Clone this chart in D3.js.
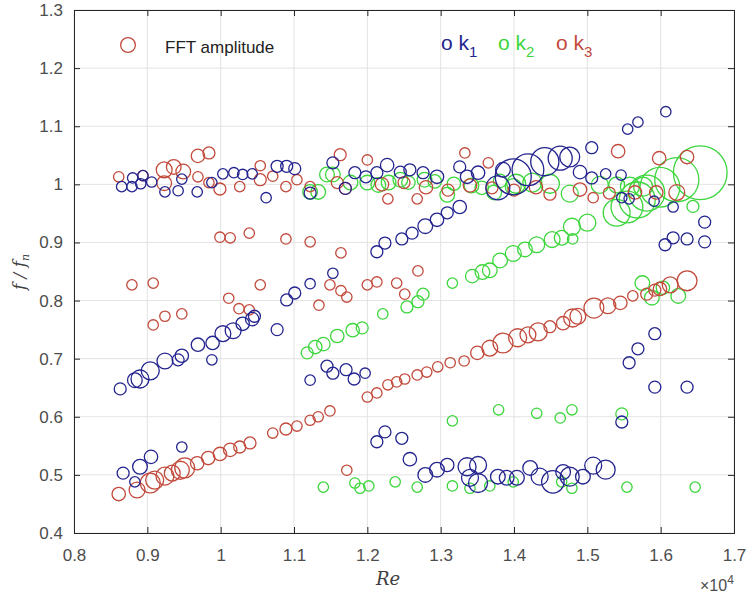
<!DOCTYPE html>
<html>
<head>
<meta charset="utf-8">
<script src="https://cdn.jsdelivr.net/npm/d3@7.9.0/dist/d3.min.js"></script>
<style>
  body { margin: 0; background: #fff; }
  svg { display: block; font-family: Arial, "Liberation Sans", sans-serif; }
  .grid line { stroke: #e3e3e3; }
  .tick text { fill: #4d4d4d; font-size: 17px; }
</style>
</head>
<body>
<svg id="chart" width="751" height="600"></svg>
<script>
// Each point: [Re, f/fn, FFT amplitude]
const k1 = [
  [8650,0.996,3],[8790,0.996,3],[8800,1.011,3],[8910,1.001,3],[8940,1.015,3],[9060,1.004,3],
  [9240,0.987,3],[9420,0.989,3],[9470,1.009,3],[9680,0.987,3],[9880,1.003,3],[10030,1.018,3],
  [10180,1.020,3],[10300,1.017,3],[10430,1.018,3],[10620,0.977,3],[10770,1.031,4],[10900,1.031,4],
  [11010,1.027,4],[11220,0.985,4],[11530,1.037,4],[11700,0.993,4],[11830,1.020,4],[11980,1.013,4],
  [12130,1.020,4],[12270,1.033,5],[12450,1.021,4],[12580,1.025,4],[12760,1.020,4],[12950,1.013,5],
  [13260,1.030,4],[13360,1.013,5],[13510,1.020,5],[13850,1.025,6],
  [13780,0.994,16],[13990,1.013,36],[14190,1.025,28],[14420,1.039,22],[14630,1.045,16],[14760,1.047,11],
  [15060,1.063,4],[14900,1.021,5],[15060,1.011,4],[15250,1.018,3],[15460,1.016,3],[15470,0.977,3],
  [15570,0.975,3],[15910,0.971,3],[16170,0.961,3],[15550,1.095,3],[15690,1.107,3],[16070,1.125,3],
  [16600,0.935,4],[16600,0.901,4],[16060,0.896,4],[16170,0.908,4],[16360,0.906,4],
  [15920,0.743,4],[15690,0.717,4],[15570,0.693,4],[15920,0.651,4],[16360,0.651,4],[15470,0.591,4],
  [8630,0.648,4],[8830,0.663,6],[8900,0.665,9],[9040,0.679,9],[9240,0.696,7],[9420,0.698,4],
  [9470,0.705,5],[9690,0.724,5],[9890,0.727,5],[10030,0.743,7],[10170,0.748,7],[10300,0.760,5],
  [10430,0.768,5],[10460,0.773,4],[10770,0.750,4],[9880,0.698,3],
  [10900,0.801,4],[11010,0.813,4],[11220,0.829,3],[11530,0.847,3],[11220,0.663,3],[11450,0.687,4],
  [11530,0.675,4],[11710,0.681,4],[11820,0.665,4],[11970,0.675,3],
  [12130,0.884,4],[12240,0.899,4],[12470,0.906,4],[12610,0.916,4],[12790,0.928,6],[12950,0.939,5],
  [13090,0.951,4],[13260,0.961,5],
  [12130,0.557,4],[12240,0.574,4],[12470,0.563,4],[12580,0.527,5],
  [8670,0.503,4],[8830,0.488,3],[8900,0.514,6],[9050,0.531,5],[9470,0.548,3],
  [12790,0.500,6],[12950,0.509,6],[13090,0.517,5],[13360,0.514,9],[13510,0.517,8],[13400,0.495,8],
  [13510,0.486,10],[13780,0.497,6],[13900,0.495,6],[14040,0.495,6],[14220,0.512,6],[14350,0.497,8],
  [14530,0.488,14],[14670,0.505,6],[14760,0.497,10],[14940,0.497,6],[15080,0.516,8],[15250,0.509,10]
];

const k2 = [
  [11400,0.479,3],[11830,0.486,3],[11900,0.477,3],[12020,0.481,3],[12380,0.488,3],[12680,0.479,3],
  [13160,0.481,3],[13400,0.477,3],[13670,0.481,3],[13990,0.488,3],[14650,0.488,3],[14790,0.477,3],
  [15540,0.479,3],[16470,0.479,3],
  [13160,0.593,3],[13790,0.612,3],[14310,0.606,3],[14630,0.598,3],[14790,0.612,3],[15470,0.605,4],
  [11180,0.710,4],[11290,0.720,5],[11400,0.725,5],[11590,0.739,5],[11800,0.749,5],[11930,0.753,4],
  [12210,0.777,3],[12540,0.789,4],[12690,0.798,4],[12760,0.811,4],[13160,0.830,3],[13430,0.842,5],
  [13570,0.849,6],[13670,0.852,6],[13810,0.869,6],[13990,0.881,7],[14150,0.888,6],[14310,0.896,7],
  [14520,0.905,7],[14650,0.908,6],[14790,0.927,8],[14800,0.906,3],[15000,0.934,8],
  [15400,0.951,20],[15540,0.961,28],[15680,0.973,36],[15810,0.985,36],[15990,0.995,44],
  [16220,1.008,54],[16540,1.020,80],[16440,0.962,4],
  [11220,0.987,6],[11330,0.987,6],[11450,1.017,6],[11530,1.017,6],[11770,1.003,6],[12000,1.003,6],
  [12150,0.999,6],[12290,1.003,6],[12450,1.008,6],[12560,1.003,5],[12780,1.008,6],[12920,1.005,5],
  [13090,0.982,6],[13180,1.001,5],[13420,0.998,6],[13560,0.994,5],[13730,0.986,6],[13810,1.006,5],
  [13990,0.996,7],[14030,1.001,10],[14250,1.003,10],[14490,1.001,10],[14760,0.984,8],[15170,0.999,8],
  [15400,0.999,7],[15580,0.996,10],[15760,0.996,10],
  [15750,0.830,6],[15880,0.805,6],[16240,0.808,6],[16030,0.822,5]
];

const k3 = [
  [8610,0.467,5],[8860,0.474,7],[9040,0.486,11],[9100,0.491,9],[9240,0.498,9],[9340,0.503,7],
  [9450,0.508,9],[9510,0.512,11],[9680,0.520,5],[9830,0.529,5],[9990,0.536,5],[10130,0.543,5],
  [10260,0.548,4],[10400,0.555,4],[10710,0.572,3],[10890,0.579,4],[11040,0.584,3],[11220,0.594,3],
  [11330,0.600,3],[11490,0.610,3],[12000,0.634,3],[12130,0.641,3],[12280,0.655,3],[12400,0.660,3],
  [12510,0.665,3],[12680,0.672,3],[12810,0.677,3],[12960,0.686,3],[13130,0.693,3],[13320,0.696,3],
  [13500,0.710,5],[13670,0.718,7],[13850,0.727,11],[14050,0.736,9],[14190,0.741,7],[14330,0.746,9],
  [14490,0.755,4],[14670,0.761,5],[14800,0.770,9],[14870,0.773,7],[15090,0.787,11],[15280,0.791,7],
  [15450,0.796,5],[15620,0.808,3],[15810,0.811,4],[15920,0.818,4],[15990,0.820,5],[16130,0.827,7],
  [16360,0.834,11],
  [8610,1.013,3],[8940,1.015,3],[9230,1.025,7],[9360,1.030,6],[9490,1.022,6],[9230,1.002,6],
  [9690,1.049,5],[9840,1.054,4],[9690,1.013,3],[9840,1.003,3],[9990,0.992,4],[10260,0.996,3],
  [10540,1.032,3],[10540,1.008,4],[10710,1.014,3],[10890,0.996,3],[11040,1.008,3],[11220,0.996,3],
  [11590,1.003,4],[11630,1.051,4],[12000,1.042,3],[12280,0.975,3],[12680,0.975,3],[13330,1.054,3],
  [13650,1.037,3],[15420,1.057,5],[15980,1.045,5],[16360,1.047,5],
  [11700,0.993,4],[12200,1.000,5],[12500,1.003,4],[12800,0.995,5],[13100,0.990,4],[13400,0.998,5],
  [13700,0.994,4],[14000,0.990,4],[14300,0.995,5],[14490,0.983,4],[14900,0.991,5],[15080,0.977,3],
  [15300,0.985,4],[15650,0.986,5],[15940,0.986,5],[16220,0.986,7],
  [8790,0.827,3],[9080,0.830,3],[9080,0.758,3],[9240,0.773,3],[9470,0.777,3],[9990,0.909,3],
  [10130,0.908,3],[10390,0.916,3],[10890,0.906,3],[11220,0.901,3],[11640,0.882,3],[10110,0.804,3],
  [10250,0.786,3],[10390,0.784,3],[10540,0.827,3],[11490,0.827,3],[11640,0.817,3],[11720,0.806,3],
  [11340,0.792,3],[12000,0.827,3],[12130,0.832,3],[12400,0.830,3],[12510,0.811,3],[12690,0.851,3],
  [11720,0.508,3]
];

const xTicks = [8000, 9000, 10000, 11000, 12000, 13000, 14000, 15000, 16000, 17000];
const yTicks = [0.4, 0.5, 0.6, 0.7, 0.8, 0.9, 1.0, 1.1, 1.2, 1.3];

const colors = { k1: '#24248f', k2: '#3cd63c', k3: '#c24a3c' };

const margin = { top: 10, right: 17, bottom: 67, left: 74 };
const width = 751, height = 600;
const svg = d3.select('#chart');

const x = d3.scaleLinear().domain([8000, 17000]).range([margin.left, width - margin.right]);
const y = d3.scaleLinear().domain([0.4, 1.3]).range([height - margin.bottom, margin.top]);
const r = d3.scaleSqrt().domain([0, 100]).range([0, 30]);

// grid
svg.append('g').attr('class', 'grid')
  .selectAll('line.v').data(xTicks).join('line')
  .attr('x1', d => x(d)).attr('x2', d => x(d))
  .attr('y1', y(0.4)).attr('y2', y(1.3));
svg.select('.grid')
  .selectAll('line.h').data(yTicks).join('line').attr('class', 'h')
  .attr('x1', x(8000)).attr('x2', x(17000))
  .attr('y1', d => y(d)).attr('y2', d => y(d));

// points, blue drawn last so it stays on top like the reference
const series = [['k2', k2], ['k3', k3], ['k1', k1]];
series.forEach(([key, pts]) => {
  svg.append('g')
    .selectAll('circle').data(pts).join('circle')
    .attr('cx', d => x(d[0]))
    .attr('cy', d => y(d[1]))
    .attr('r', d => r(d[2]))
    .attr('fill', 'none')
    .attr('stroke', colors[key])
    .attr('stroke-width', 1.3);
});

// axes (MATLAB style, ticks inside on all four sides)
const fmt = d => d3.format('~g')(d);
svg.append('g')
  .attr('transform', `translate(0,${y(0.4)})`)
  .call(d3.axisBottom(x).tickValues(xTicks).tickSize(-6).tickPadding(16).tickFormat(d => fmt(d / 1e4)));
svg.append('g')
  .attr('transform', `translate(${x(8000)},0)`)
  .call(d3.axisLeft(y).tickValues(yTicks).tickSize(-6).tickPadding(11).tickFormat(d => fmt(d)));
svg.append('g')
  .attr('transform', `translate(0,${y(1.3)})`)
  .call(d3.axisTop(x).tickValues(xTicks).tickSize(-6).tickFormat(''));
svg.append('g')
  .attr('transform', `translate(${x(17000)},0)`)
  .call(d3.axisRight(y).tickValues(yTicks).tickSize(-6).tickFormat(''));
svg.selectAll('.domain').attr('stroke', '#262626');
svg.selectAll('.tick line').attr('stroke', '#262626');

// axis labels
svg.append('text')
  .attr('x', 388).attr('y', 585)
  .attr('text-anchor', 'middle')
  .style('font-family', '"DejaVu Serif", "Liberation Serif", serif')
  .style('font-style', 'italic').style('font-size', '18px').style('fill', '#404040')
  .text('Re');

const yl = svg.append('text')
  .attr('transform', 'translate(25,272) rotate(-90)')
  .attr('text-anchor', 'middle')
  .style('font-family', '"DejaVu Serif", "Liberation Serif", serif')
  .style('font-style', 'italic').style('font-size', '17px').style('fill', '#404040');
yl.append('tspan').text('f / f');
yl.append('tspan').attr('dy', 4).style('font-size', '11px').text('n');

const mult = svg.append('text')
  .attr('x', 700).attr('y', 591)
  .style('font-size', '16px').style('fill', '#4d4d4d');
mult.append('tspan').text('×10');
mult.append('tspan').attr('dy', -7).style('font-size', '12px').text('4');

// legend
svg.append('circle').attr('cx', 128).attr('cy', 45).attr('r', r(6))
  .attr('fill', 'none').attr('stroke', colors.k3).attr('stroke-width', 1.3);
svg.append('text').attr('x', 165).attr('y', 53)
  .style('font-size', '17px').style('fill', '#222').text('FFT amplitude');

const kLabels = [['k1', '1', 441], ['k2', '2', 498], ['k3', '3', 556]];
kLabels.forEach(([key, sub, px]) => {
  const t = svg.append('text').attr('x', px).attr('y', 50)
    .style('font-size', '21px').style('fill', colors[key]);
  t.append('tspan').text('o k');
  t.append('tspan').attr('dy', 7).style('font-size', '15px').text(sub);
});
</script>
</body>
</html>
